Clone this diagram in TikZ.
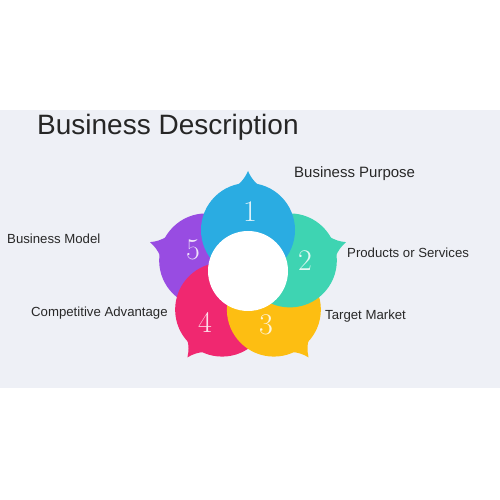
\documentclass[tikz,border=0pt]{standalone}
\usepackage{fontspec}
\newfontfamily\labelfont{Liberation Sans}
\usetikzlibrary{calc}

\definecolor{bandgray}{RGB}{238,240,246}
\definecolor{petalblue}{RGB}{42,172,226}
\definecolor{petalteal}{RGB}{62,212,178}
\definecolor{petalyellow}{RGB}{253,190,18}
\definecolor{petalpink}{RGB}{240,40,112}
\definecolor{petalpurple}{RGB}{152,76,226}
\definecolor{textdark}{RGB}{40,40,40}

\begin{document}
\begin{tikzpicture}[x=1pt, y=1pt,
    petal/.style={circle, fill=#1, minimum size=94pt, inner sep=0pt},
    hub/.style={circle, fill=white, minimum size=80pt, inner sep=0pt},
    num/.style={text=white, text opacity=0.85, font=\fontsize{30}{30}\selectfont, inner sep=0pt},
    caption/.style={font=\labelfont\fontsize{13.2}{15}\selectfont, text=textdark, anchor=base west, inner sep=0pt},
    heading/.style={caption, font=\labelfont\fontsize{28}{32}\selectfont, text=black!85}
]

% Background
\useasboundingbox (0,0) rectangle (500,500);
\fill[white] (0,0) rectangle (500,500);
\fill[bandgray] (0,112) rectangle (500,390);

% Title
\node[heading] (title) at (37,365) {Business Description};

\coordinate (center) at (248,226);

% Petals, back to front
\foreach \ang/\col/\name in {162/petalpurple/p5, -126/petalpink/p4, -54/petalyellow/p3, 18/petalteal/p2, 90/petalblue/p1} {
  \fill[\col] ($(center)+(\ang:44)+(\ang+13:46)$) to[bend right=12] ($(center)+(\ang:103)$)
    to[bend right=12] ($(center)+(\ang:44)+(\ang-13:46)$) -- cycle;
  \node[petal=\col] (\name) at ($(center)+(\ang:44)$) {};
}

% Middle
\node[hub] (core) at (248,229) {};

% Numbers
\node[num] (n1) at (250,288) {1};
\node[num] (n2) at (305,239) {2};
\node[num] (n3) at (266,175) {3};
\node[num] (n4) at (205,178) {4};
\node[num] (n5) at (193,250) {5};

% Labels
\node[caption, font=\labelfont\fontsize{15}{17}\selectfont] (purpose) at (294,322) {Business Purpose};
\node[caption] (products) at (347,242) {Products or Services};
\node[caption] (market) at (325,180) {Target Market};
\node[caption] (model) at (7,256) {Business Model};
\node[caption] (advantage) at (31,183) {Competitive Advantage};

\end{tikzpicture}
\end{document}
